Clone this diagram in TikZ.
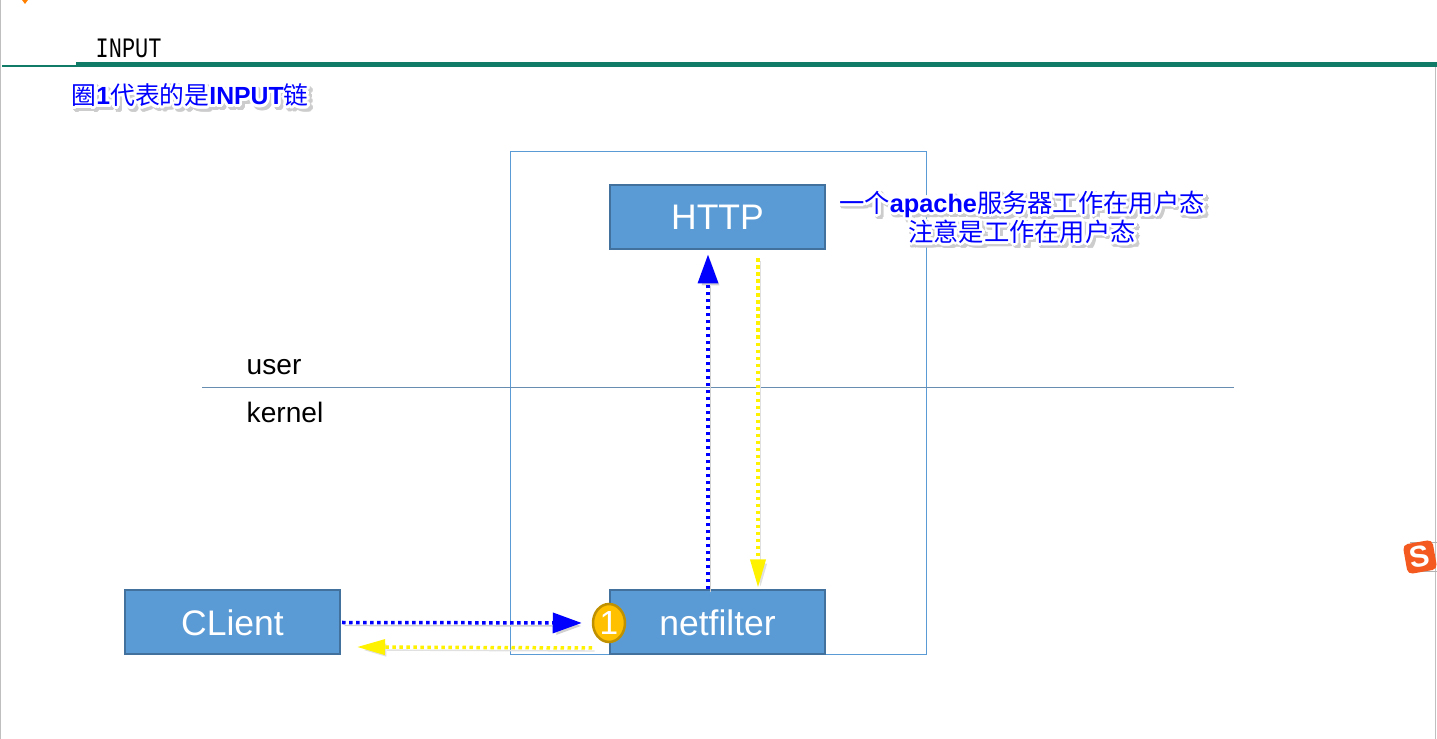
\documentclass[tikz,border=0pt]{standalone}
\usepackage{fontspec}
\setmainfont{Liberation Sans}
\newfontfamily\cjk{Noto Sans CJK SC}
\newfontfamily\narrowmono[FakeStretch=0.78]{Liberation Mono}
\usepackage[copies]{contour}
\usetikzlibrary{arrows.meta,shapes.geometric}
\definecolor{boxblue}{HTML}{5B9BD5}
\definecolor{boxedge}{HTML}{41719C}
\definecolor{bargreen}{HTML}{107C68}
\definecolor{ringfill}{HTML}{FFC000}
\definecolor{ringedge}{HTML}{BF9000}
\definecolor{logoorange}{HTML}{F4591F}
\contourlength{0.8pt}
\newcommand{\glow}[1]{\rlap{\kern0.8pt\raisebox{-0.8pt}{\contour{black!20}{\color{black!20}#1}}}\contour{white}{#1}}
\tikzset{
  boxnode/.style={draw=boxedge, line width=.02cm, fill=boxblue, text=white, minimum width=2.15cm, minimum height=.64cm, inner sep=0pt, font=\fontsize{10.1}{12}\selectfont},
  layertext/.style={anchor=west, inner sep=0pt, font=\fontsize{8}{10}\selectfont},
  notetext/.style={inner sep=0pt, align=center, text=blue, font=\fontsize{7.2}{8.1}\selectfont\bfseries},
  bluearrow/.style={blue, line width=.035cm, dash pattern=on .035cm off .035cm, -{Triangle[length=.29cm,width=.2cm,sep=0pt]}, preaction={draw=black!18, transform canvas={shift={(.025,-.03)}}}},
  yellowarrow/.style={yellow, line width=.035cm, dash pattern=on .035cm off .035cm, -{Triangle[length=.28cm,width=.15cm,sep=0pt]}, preaction={draw=black!12, transform canvas={shift={(.025,-.03)}}}}
}
\begin{document}
\begin{tikzpicture}
  \useasboundingbox (0,0) rectangle (14.37,7.39);

  % window edges
  \draw[black!25, line width=.015cm] (.005,0) -- (.005,7.39);
  \draw[black!25, line width=.015cm] (14.355,0) -- (14.355,6.75);
  \draw[black!30, line width=.01cm] (14.1,1.67) -- (14.37,1.67);
  \draw[black!30, line width=.01cm] (14.1,1.96) -- (14.37,1.96);
  \fill[orange] (.22,7.39) -- (.25,7.35) -- (.28,7.39) -- cycle;

  % title bar
  \node[anchor=base west, inner sep=0pt, font=\fontsize{8}{10}\selectfont\narrowmono] (title) at (.95,6.81) {INPUT};
  \fill[bargreen] (.76,6.72) rectangle (14.37,6.77);
  \fill[bargreen] (.02,6.72) rectangle (.76,6.735);

  % notes
  \node[notetext, anchor=west, font=\fontsize{7.05}{8.1}\selectfont\bfseries] (ringnote) at (.71,6.41) {\glow{{\cjk\mdseries 圈}1{\cjk\mdseries 代表的是}INPUT{\cjk\mdseries 链}}};

  % host frame and layer line
  \draw[boxblue, line width=.01cm] (5.10,.84) rectangle (9.26,5.87);
  \draw[boxedge!80, line width=.01cm] (2.02,3.515) -- (12.34,3.515);
  \node[layertext] (user) at (2.46,3.72) {user};
  \node[layertext] (kernel) at (2.46,3.27) {kernel};

  % boxes
  \node[boxnode] (http) at (7.175,5.215) {HTTP};
  \node[boxnode] (netfilter) at (7.175,1.165) {netfilter};
  \node[boxnode] (client) at (2.325,1.165) {CLient};
  \node[draw=ringedge, line width=.025cm, fill=ringfill, text=white, ellipse, minimum width=.32cm, minimum height=.38cm, inner sep=0pt, font=\fontsize{9.5}{12}\selectfont] (ring) at (6.09,1.16) {1};
  \node[notetext] (httpnote) at (10.22,5.19) {\glow{{\cjk\mdseries 一个}apache{\cjk\mdseries 服务器工作在用户态}}\\[-2pt] \glow{{\cjk\mdseries 注意是工作在用户态}}};

  % flows
  \coordinate (upx) at (7.08,0);
  \coordinate (downx) at (7.58,0);
  \coordinate (backstart) at (5.92,.91);
  \coordinate (backend) at (3.57,.92);
  \draw[bluearrow, shorten >=.04cm] (netfilter.north -| upx) -- (http.south -| upx);
  \draw[yellowarrow, shorten <=.08cm, shorten >=.02cm] (http.south -| downx) -- (netfilter.north -| downx);
  \draw[bluearrow, shorten <=.01cm, shorten >=.1cm] (client.east) -- (ring.west);
  \draw[yellowarrow] (backstart) -- (backend);

  % input method badge
  \node[fill=logoorange, rounded corners=.05cm, rotate=10, text=white, minimum size=.3cm, inner sep=0pt, font=\fontsize{8.5}{10}\selectfont\bfseries] (logo) at (14.2,1.82) {S};
\end{tikzpicture}
\end{document}
